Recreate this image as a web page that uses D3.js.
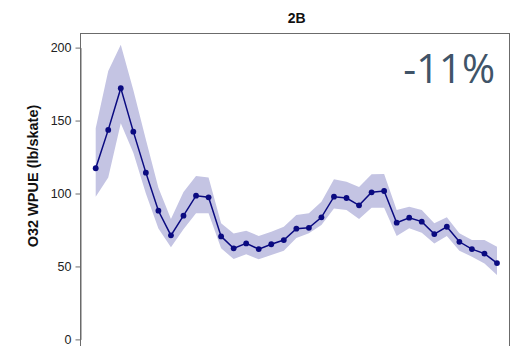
<!DOCTYPE html>
<html>
<head>
<meta charset="utf-8">
<script src="https://cdn.jsdelivr.net/npm/d3@7"></script>
<style>
  html, body { margin: 0; padding: 0; background: #fff; }
  svg { display: block; }
</style>
</head>
<body>
<svg id="chart" width="514" height="346"></svg>
<script>
// Survey years (one index value per year)
const years = d3.range(1993, 2026);

// O32 weight per unit effort, lb/skate
const wpue = [117.3, 143.6, 172.2, 142.4, 114.3, 88.2, 71.3, 84.8, 98.5, 97.4,
              70.6, 62.4, 65.8, 61.9, 65.2, 68.1, 75.9, 76.5, 83.7, 97.8,
              96.9, 91.9, 100.8, 101.7, 80.0, 83.4, 80.7, 72.2, 77.2, 66.9,
              61.9, 58.8, 52.3];

// Upper and lower interval bounds
const upper = [144.7, 184.0, 201.9, 171.0, 137.0, 104.0, 82.5, 101.0, 112.0, 111.0,
               79.6, 72.5, 74.5, 70.9, 73.8, 77.2, 85.3, 86.4, 94.4, 109.7,
               108.1, 104.5, 113.2, 113.4, 88.7, 90.9, 88.7, 79.6, 83.7, 72.7,
               68.1, 68.1, 63.5];
const lower = [97.8, 111.0, 148.1, 128.0, 100.0, 76.0, 63.1, 75.5, 86.4, 86.4,
               62.4, 55.1, 58.3, 54.9, 57.8, 60.8, 69.5, 72.7, 78.4, 89.8,
               88.7, 82.5, 90.3, 90.3, 70.9, 76.1, 73.1, 65.8, 70.9, 60.8,
               56.7, 52.1, 44.1];

const yTicks = [0, 50, 100, 150, 200];
const title = "2B";
const yLabel = "O32 WPUE (lb/skate)";
const changeLabel = "-11%";

const svg = d3.select("#chart");

const x = d3.scaleLinear()
  .domain([years[0], years[years.length - 1]])
  .range([95.7, 497]);

const y = d3.scaleLinear()
  .domain([0, 200])
  .range([339.4, 47.6]);

const rows = years.map((yr, i) => ({ yr, v: wpue[i], hi: upper[i], lo: lower[i] }));

// Panel frame (runs off the bottom edge)
svg.append("rect")
  .attr("x", 80.5).attr("y", 33.5)
  .attr("width", 429).attr("height", 400)
  .attr("fill", "none")
  .attr("stroke", "#6b6b6b")
  .attr("stroke-width", 1);

// Interval band
svg.append("path")
  .datum(rows)
  .attr("fill", "#c4c4e3")
  .attr("d", d3.area()
    .x(d => x(d.yr))
    .y0(d => y(d.lo))
    .y1(d => y(d.hi)));

// Index line
svg.append("path")
  .datum(rows)
  .attr("fill", "none")
  .attr("stroke", "#0a0a80")
  .attr("stroke-width", 1.5)
  .attr("d", d3.line().x(d => x(d.yr)).y(d => y(d.v)));

// Points
svg.append("g")
  .selectAll("circle")
  .data(rows)
  .join("circle")
  .attr("cx", d => x(d.yr))
  .attr("cy", d => y(d.v))
  .attr("r", 2.9)
  .attr("fill", "#0a0a80");

// Y axis
const yAxis = svg.append("g")
  .attr("transform", "translate(80.5,0)")
  .call(d3.axisLeft(y).tickValues(yTicks).tickSize(5).tickSizeOuter(0).tickPadding(4));
yAxis.select(".domain").attr("stroke", "#6b6b6b");
yAxis.selectAll(".tick line").attr("stroke", "#6b6b6b");
yAxis.selectAll(".tick text")
  .attr("fill", "#222")
  .style("font-family", "'Liberation Sans', Arial, sans-serif")
  .style("font-size", "12.5px");

// Y axis title
svg.append("text")
  .attr("transform", "translate(38,176) rotate(-90)")
  .attr("text-anchor", "middle")
  .style("font-family", "'Liberation Sans', Arial, sans-serif")
  .style("font-weight", "bold")
  .style("font-size", "14.5px")
  .attr("fill", "#111")
  .text(yLabel);

// Panel title
svg.append("text")
  .attr("x", 296.7).attr("y", 23.3)
  .attr("text-anchor", "middle")
  .style("font-family", "'Liberation Sans', Arial, sans-serif")
  .style("font-weight", "bold")
  .style("font-size", "14px")
  .attr("fill", "#111")
  .text(title);

// Percent change annotation
svg.append("text")
  .attr("x", 495).attr("y", 82.5)
  .attr("text-anchor", "end")
  .style("font-family", "'Open Sans', sans-serif")
  .style("font-size", "40px")
  .attr("fill", "#405468")
  .text(changeLabel);
</script>
</body>
</html>
